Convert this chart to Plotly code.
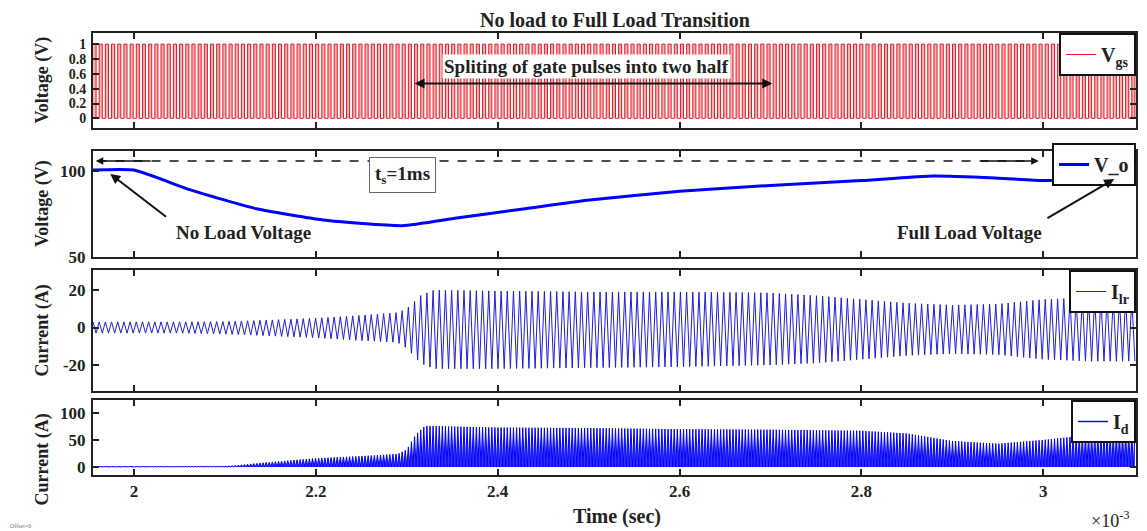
import numpy as np
import plotly.graph_objects as go

# ---------------- data (time in ms, axis shown x10^-3 s) ----------------
x_ticks = [2.0, 2.2, 2.4, 2.6, 2.8, 3.0]
x_tick_text = ["2", "2.2", "2.4", "2.6", "2.8", "3"]

switch_period = 0.0068          # ms, spacing of the switching cycles seen in the traces
gate_period = 0.0068
t_start, t_end = 1.955, 3.102

# gate pulse levels
gate_low, gate_high = 0.0, 1.0

# output voltage V_o
vo_t = [1.955, 2.0, 2.062, 2.135, 2.208, 2.295, 2.355, 2.428, 2.501, 2.6, 2.7, 2.8, 2.88, 2.95, 3.0, 3.05, 3.102]
vo_v = [100.5, 100.5, 89, 78, 71.5, 68.2, 72.7, 77.9, 83.1, 88.2, 91.6, 94.4, 97.0, 95.8, 94.5, 94.8, 96.0]

# resonant current I_lr envelope
ilr_t = [1.955, 2.05, 2.10, 2.15, 2.20, 2.25, 2.29, 2.30, 2.315, 2.33, 2.40, 2.50, 2.60, 2.70, 2.75, 2.80, 2.85, 2.90, 2.95, 3.00, 3.05, 3.102]
ilr_hi = [3, 3, 3.2, 4, 5, 6.5, 8, 10, 17, 20, 19.5, 19, 19, 18.5, 17, 15, 13, 12, 12.5, 15, 16, 15.5]
ilr_lo = [-3, -3, -3.5, -4.5, -5.5, -7, -8, -11, -19, -22, -22, -21.5, -21, -20, -19, -17, -15, -14, -14.5, -17, -18, -18]

# diode current I_d envelope
id_t = [1.955, 2.10, 2.15, 2.20, 2.25, 2.29, 2.30, 2.31, 2.32, 2.40, 2.50, 2.60, 2.70, 2.80, 2.85, 2.90, 2.95, 3.00, 3.05, 3.102]
id_hi = [0.5, 1, 9, 16, 20, 24, 32, 60, 76, 73, 72, 70, 69, 67, 62, 48, 43, 50, 59, 61]
id_lo = [0] * len(id_t)


# ---------------- helpers ----------------
def zigzag(tk, hi, lo, step):
    t = np.arange(tk[0], tk[-1], step)
    up = np.interp(t, tk, hi)
    dn = np.interp(t, tk, lo)
    y = np.where(np.arange(len(t)) % 2 == 0, up, dn)
    return t, y


OFF = 8                      # page body margin
W, H = 1147 - OFF, 531 - OFF
SERIF = "Liberation Serif"


def pxx(x):
    return (x - OFF) / W


def py(y):
    return 1 - (y - OFF) / H


x_dom = [pxx(93), pxx(1136)]

gate_t, gate_v = zigzag([t_start, t_end], [gate_high, gate_high], [gate_low, gate_low], gate_period / 2)
ilr_tt, ilr_v = zigzag(ilr_t, ilr_hi, ilr_lo, switch_period / 2)
id_tt, id_v = zigzag(id_t, id_hi, id_lo, switch_period / 4)

fig = go.Figure()
fig.add_trace(go.Scatter(x=gate_t, y=gate_v, mode="lines", line=dict(color="rgb(235,20,30)", width=1, shape="hv"),
                         fill="tozeroy", fillcolor="rgba(245,130,135,0.6)", showlegend=False,
                         xaxis="x", yaxis="y", legend="legend"))
fig.add_trace(go.Scatter(x=vo_t, y=vo_v, mode="lines", line=dict(color="rgb(0,0,255)", width=3, shape="spline", smoothing=0.5),
                         name="V_o", xaxis="x2", yaxis="y2", legend="legend2"))
fig.add_trace(go.Scatter(x=ilr_tt, y=ilr_v, mode="lines", line=dict(color="rgb(30,30,220)", width=1),
                         name="I<sub>lr</sub>", xaxis="x3", yaxis="y3", legend="legend3"))
fig.add_trace(go.Scatter(x=id_tt, y=id_v, mode="lines", line=dict(color="rgb(0,0,255)", width=1),
                         fill="tozeroy", fillcolor="rgba(0,0,255,0.8)", showlegend=False,
                         xaxis="x4", yaxis="y4", legend="legend4"))
# legend entries (line samples only)
fig.add_trace(go.Scatter(x=[None], y=[None], mode="lines", line=dict(color="rgb(235,20,30)", width=1),
                         name="V<sub>gs</sub>", xaxis="x", yaxis="y", legend="legend"))
fig.add_trace(go.Scatter(x=[None], y=[None], mode="lines", line=dict(color="rgb(0,0,255)", width=1.4),
                         name="I<sub>d</sub>", xaxis="x4", yaxis="y4", legend="legend4"))

rows = [
    dict(top=33, bot=128, yr=[-0.13, 1.15], tv=[0, 0.2, 0.4, 0.6, 0.8, 1], tt=["0", "0.2", "0.4", "0.6", "0.8", "1"],
         title="Voltage (V)", fs=14),
    dict(top=151, bot=257, yr=[50, 111.6], tv=[50, 100], tt=["50", "100"], title="Voltage (V)", fs=17),
    dict(top=270, bot=391, yr=[-33.9, 30.7], tv=[-20, 0, 20], tt=["-20", "0", "20"], title="Current (A)", fs=17),
    dict(top=400, bot=475, yr=[-15, 124], tv=[0, 50, 100], tt=["0", "50", "100"], title="Current (A)", fs=17),
]

axis_common = dict(showline=True, linecolor="#222", linewidth=2, mirror="ticks", ticks="inside",
                   ticklen=6, tickwidth=2, tickcolor="#222", showgrid=False, zeroline=False, automargin=False)
layout = {}
annotations = []
for i, r in enumerate(rows, start=1):
    sx = "" if i == 1 else str(i)
    tf = dict(family=SERIF, size=r["fs"], color="#222", weight="bold")
    layout["xaxis" + sx] = dict(domain=x_dom, range=[t_start, t_end], anchor="y" + sx,
                                tickvals=x_ticks, ticktext=x_tick_text, showticklabels=(i == 4),
                                tickfont=dict(family=SERIF, size=17, color="#222", weight="bold"), **axis_common)
    layout["yaxis" + sx] = dict(domain=[py(r["bot"]), py(r["top"])], range=r["yr"], anchor="x" + sx,
                                tickvals=r["tv"], ticktext=r["tt"], tickfont=tf, ticklabelstandoff=2,
                                **axis_common)
    annotations.append(dict(text=r["title"], xref="paper", yref="paper", x=pxx(42),
                            y=py((r["top"] + r["bot"]) / 2 + (22 if i == 4 else 0)),
                            xanchor="center", yanchor="middle",
                            textangle=-90, showarrow=False, font=dict(family=SERIF, size=18, color="#222", weight="bold")))

legend_common = dict(bgcolor="white", bordercolor="#111", borderwidth=2, xanchor="right", yanchor="top",
                     font=dict(family=SERIF, size=20, color="#222", weight="bold"), itemwidth=30,
                     tracegroupgap=0, x=pxx(1136))
layout["legend"] = dict(y=py(33), **legend_common)
layout["legend2"] = dict(y=py(143), **legend_common)
layout["legend3"] = dict(y=py(270), **legend_common)
layout["legend4"] = dict(y=py(400), **legend_common)

bold = dict(family=SERIF, color="#222", weight="bold")
C = dict(xanchor="center", yanchor="middle")

annotations += [
    # gate splitting arrow
    dict(x=2.702, y=0.47, ax=2.307, ay=0.47, xref="x", yref="y", axref="x", ayref="y", text="",
         showarrow=True, arrowhead=2, arrowside="end+start", arrowwidth=2, arrowsize=1, arrowcolor="#111"),
    dict(x=2.498, y=0.70, xref="x", yref="y", text="Spliting of gate pulses into two half", showarrow=False,
         bgcolor="white", borderpad=1, font=dict(size=19, **bold), **C),
    # ts arrows
    dict(x=1.958, y=105.8, ax=2.02, ay=105.8, xref="x2", yref="y2", axref="x2", ayref="y2", text="",
         showarrow=True, arrowhead=2, arrowwidth=1.5, arrowcolor="#111"),
    dict(x=2.995, y=105.8, ax=2.93, ay=105.8, xref="x2", yref="y2", axref="x2", ayref="y2", text="",
         showarrow=True, arrowhead=2, arrowwidth=1.5, arrowcolor="#111"),
    dict(x=2.295, y=97.5, xref="x2", yref="y2", text="t<sub>s</sub>=1ms", showarrow=False, bgcolor="white",
         bordercolor="#666", borderwidth=1, borderpad=5, font=dict(size=19, **bold), **C),
    # no load
    dict(x=1.974, y=98.3, ax=2.037, ay=72.7, xref="x2", yref="y2", axref="x2", ayref="y2", text="",
         showarrow=True, arrowhead=2, arrowwidth=2, arrowcolor="#111"),
    dict(x=2.12, y=64.5, xref="x2", yref="y2", text="No Load Voltage", showarrow=False, font=dict(size=19, **bold), **C),
    # full load
    dict(x=3.078, y=95.3, ax=3.003, ay=72.1, xref="x2", yref="y2", axref="x2", ayref="y2", text="",
         showarrow=True, arrowhead=2, arrowwidth=2, arrowcolor="#111"),
    dict(x=2.919, y=64.5, xref="x2", yref="y2", text="Full Load Voltage", showarrow=False, font=dict(size=19, **bold), **C),
    # titles
    dict(x=pxx(615), y=py(20), xref="paper", yref="paper", text="No load to Full Load Transition", showarrow=False,
         font=dict(size=20, **bold), **C),
    dict(x=pxx(617), y=py(516), xref="paper", yref="paper", text="Time (sec)", showarrow=False,
         font=dict(size=20, **bold), **C),
    dict(x=pxx(1110), y=py(519), xref="paper", yref="paper", text="×10<sup>-3</sup>", showarrow=False,
         font=dict(size=18, family=SERIF, color="#222"), **C),
    dict(x=pxx(20), y=py(526), xref="paper", yref="paper", text="Offset=0", showarrow=False,
         font=dict(size=6, family=SERIF, color="#777"), **C),
]

shapes = [
    dict(type="line", xref="x2", yref="y2", x0=1.96, x1=2.99, y0=105.8, y1=105.8,
         line=dict(color="#111", width=1.5, dash="dash")),
]

fig.update_layout(width=W, height=H, margin=dict(l=0, r=0, t=0, b=0, autoexpand=False),
                  paper_bgcolor="white", plot_bgcolor="white",
                  annotations=annotations, shapes=shapes, **layout)
fig.write_html("out.html")
